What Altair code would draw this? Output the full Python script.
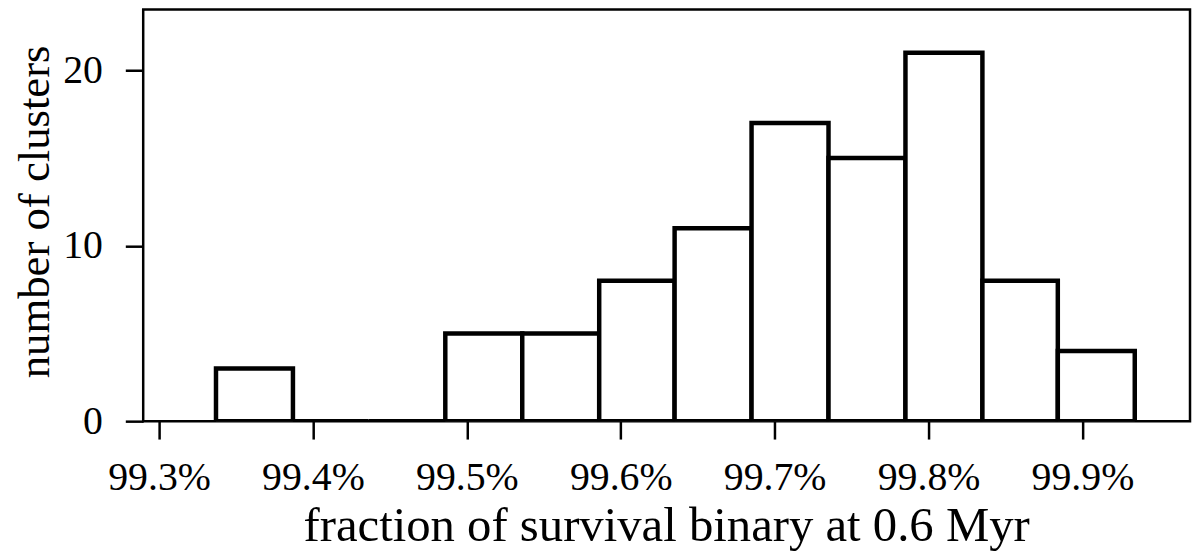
import altair as alt
import pandas as pd

# histogram bins (fraction of surviving binaries, in %)
bin_start = [99.337, 99.387, 99.436, 99.486, 99.536, 99.586,
             99.635, 99.685, 99.735, 99.785, 99.835, 99.884]
bin_end = [99.387, 99.436, 99.486, 99.536, 99.586, 99.635,
           99.685, 99.735, 99.785, 99.835, 99.884, 99.934]
n_clusters = [3, 0, 0, 5, 5, 8, 11, 17, 15, 21, 8, 4]

x_ticks = [99.3, 99.4, 99.5, 99.6, 99.7, 99.8, 99.9]
y_ticks = [0, 10, 20]

df = pd.DataFrame({"lo": bin_start, "hi": bin_end, "n": n_clusters})

serif = "Liberation Serif"

bars = alt.Chart(df).mark_rect(
    fill="white", stroke="black", strokeWidth=4.5, strokeJoin="miter", clip=True
).encode(
    x=alt.X("lo:Q",
            scale=alt.Scale(domain=[99.2897, 99.9699], nice=False, zero=False),
            axis=alt.Axis(values=x_ticks,
                          labelExpr="format(datum.value, '.1f') + '%'",
                          title="fraction of survival binary at 0.6 Myr",
                          titleX=526, titleY=120, titleBaseline="alphabetic",
                          titleAlign="center",
                          labelBaseline="alphabetic", labelPadding=51,
                          labelFontSize=40, titleFontSize=49)),
    x2="hi:Q",
    y=alt.Y("n:Q",
            scale=alt.Scale(domain=[0, 23.46], nice=False),
            axis=alt.Axis(values=y_ticks, title="number of clusters",
                          titleX=-95, titleY=203, titleBaseline="alphabetic",
                          titleAlign="center", titleAngle=-90,
                          labelBaseline="middle", labelPadding=23,
                          labelFontSize=40, titleFontSize=45)),
    y2=alt.datum(0),
).properties(
    width=1053, height=414,
    padding={"left": 136, "top": 0, "right": 2, "bottom": 129},
    autosize=alt.AutoSizeParams(type="none"),
)

chart = bars.configure_view(
    stroke="black", strokeWidth=2.5
).configure_axis(
    domain=False, grid=False, ticks=True, tickSize=18, tickWidth=2.5,
    tickColor="black", labelColor="black", titleColor="black",
    labelFont=serif, titleFont=serif, titleFontWeight="normal",
)

chart.save("out.html", embed_options={"renderer": "svg", "actions": False})
